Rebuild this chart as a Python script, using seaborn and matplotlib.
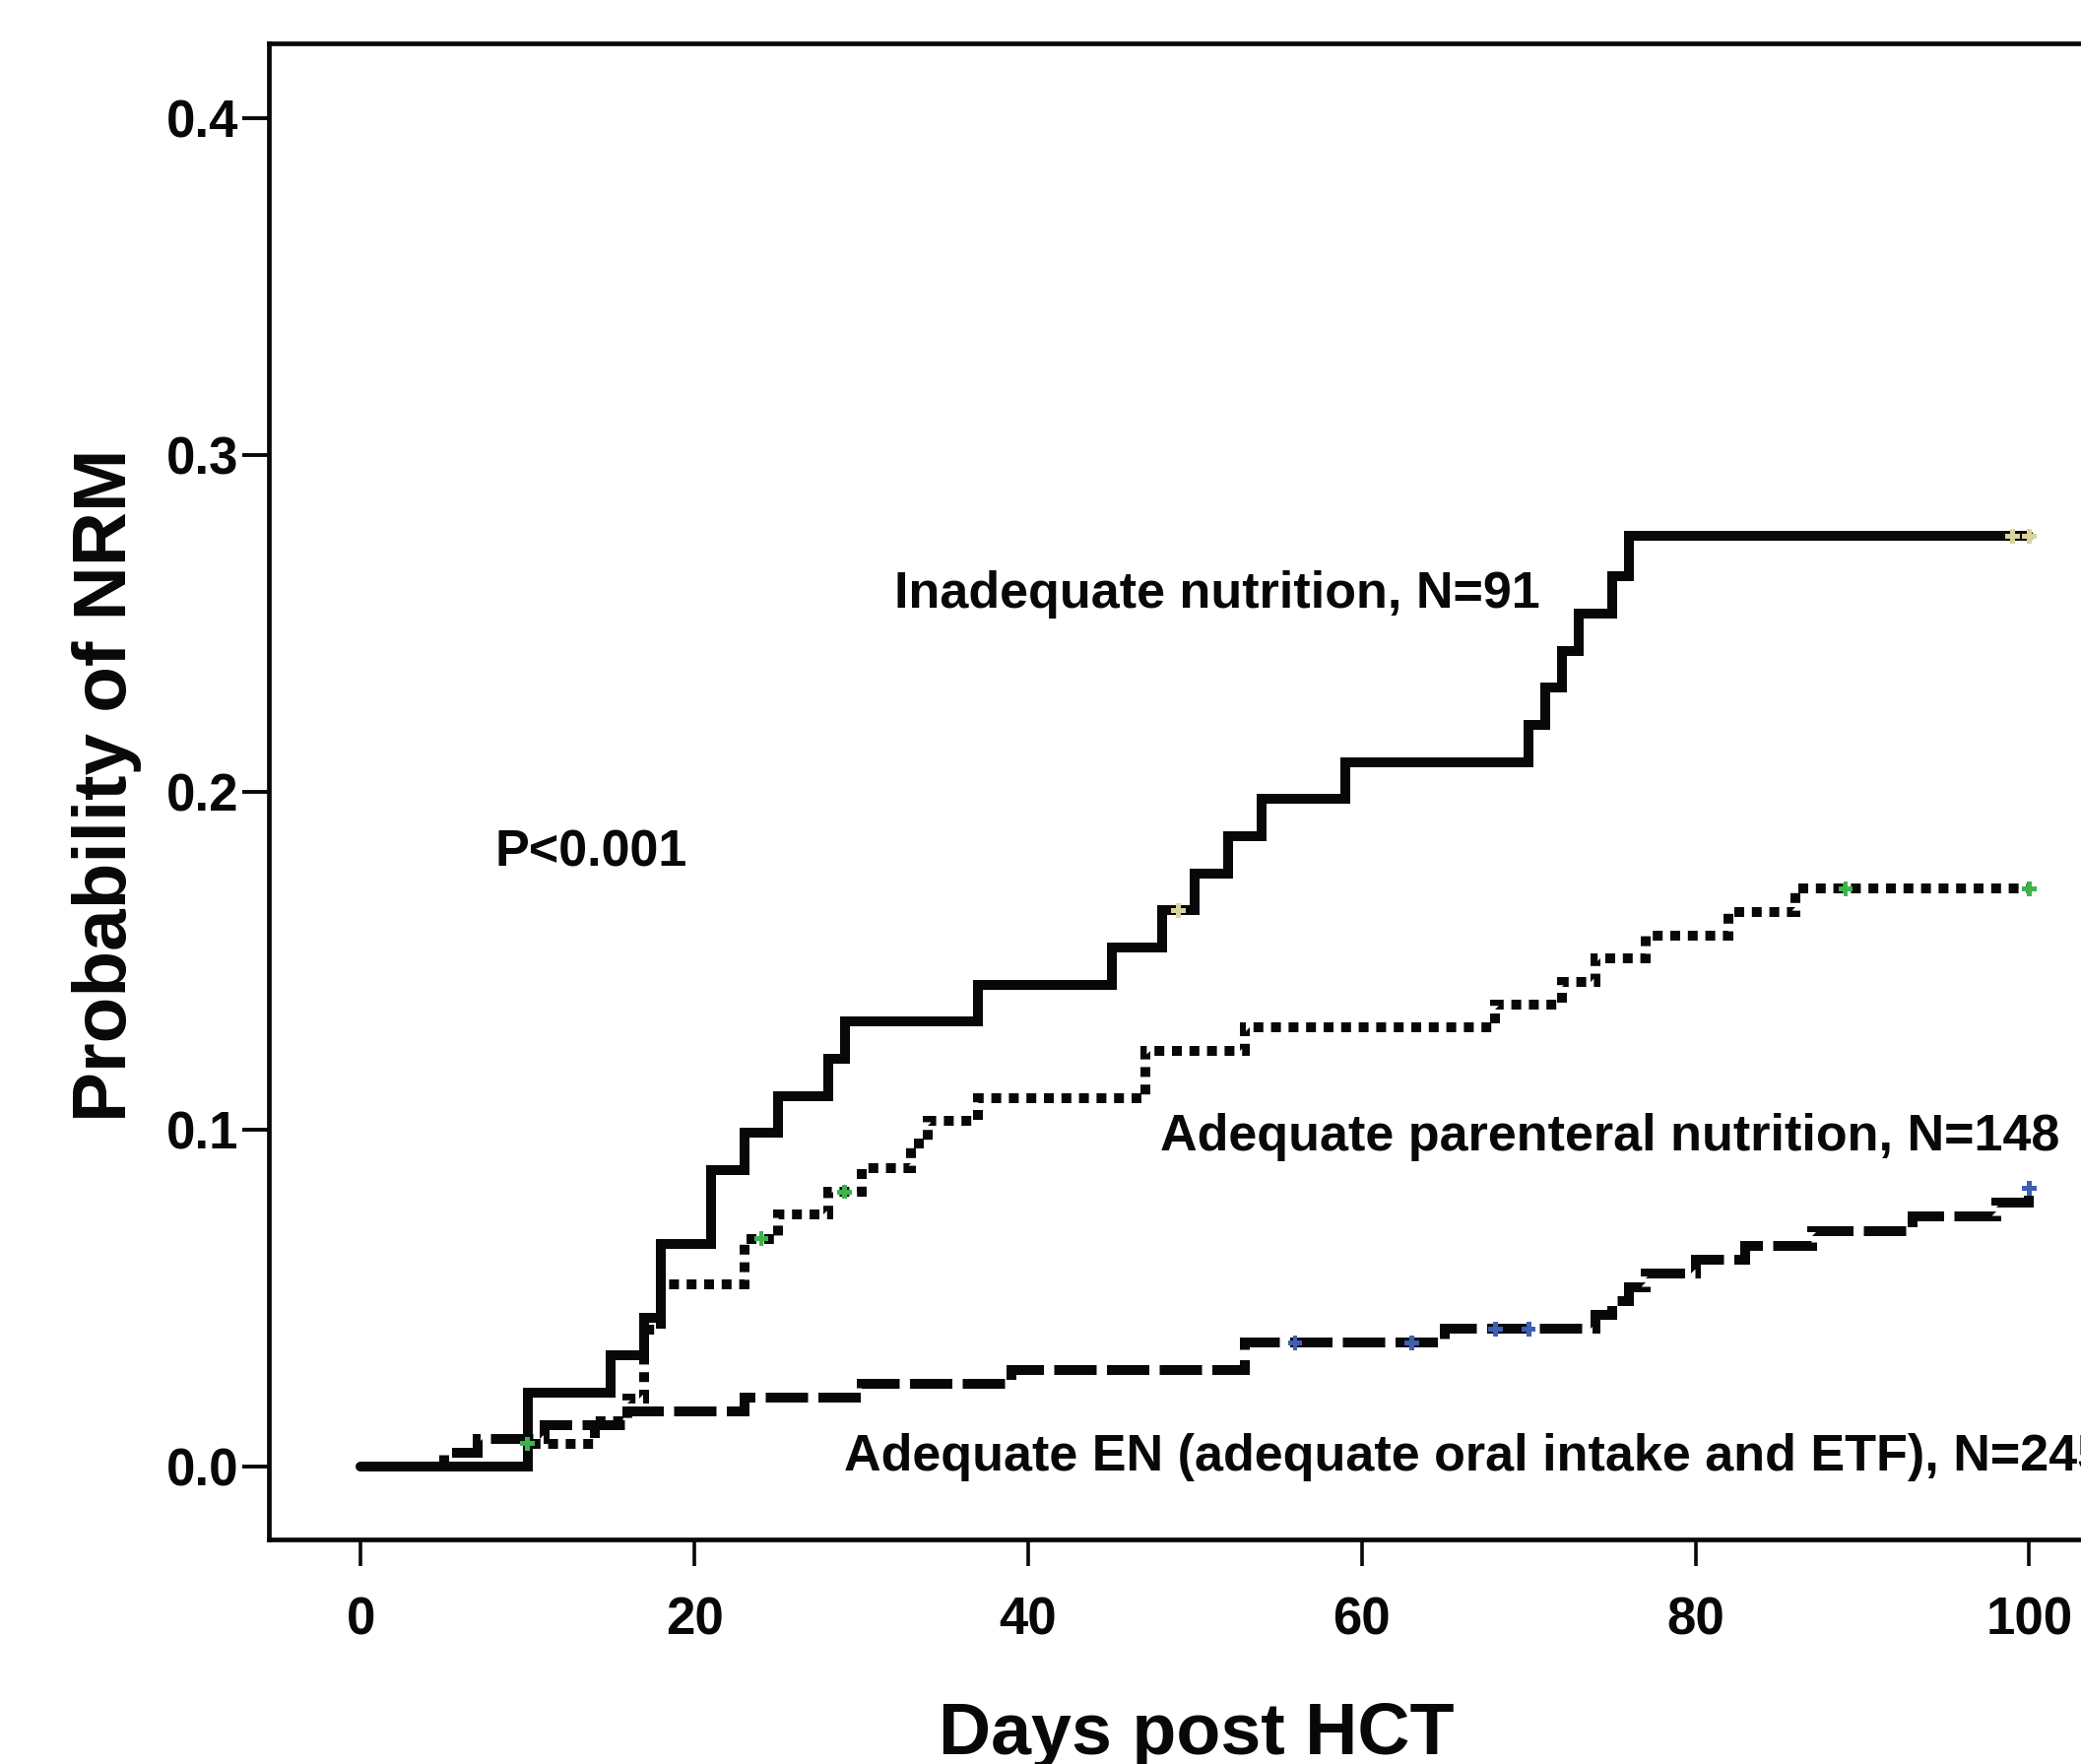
import numpy as np
import pandas as pd
import matplotlib
matplotlib.use("Agg")
import matplotlib.pyplot as plt
import seaborn as sns

# Curvas de incidencia acumulada de NRM
dias_inadecuada = [0, 10, 15, 17, 18, 21, 23, 25, 28, 29, 37, 45, 48, 50, 52, 54, 59, 70, 71, 72, 73, 75, 76, 100]
nrm_inadecuada = [0, .022, .033, .044, .066, .088, .099, .110, .121, .132, .143, .154, .165, .176, .187,
                  .198, .209, .220, .231, .242, .253, .264, .276, .276]

dias_parenteral = [0, 10, 14, 16, 17, 18, 23, 25, 28, 30, 33, 34, 37, 47, 53, 68, 72, 74, 77, 82, 86, 100]
nrm_parenteral = [0, .0068, .0135, .0203, .0405, .0541, .0676, .0747, .0815, .0885, .0957, .1026, .1093,
                  .1234, .1303, .1370, .1438, .1507, .1574, .1645, .1714, .1714]

dias_en = [0, 5, 7, 11, 16, 23, 30, 39, 53, 65, 74, 75, 76, 77, 80, 83, 87, 93, 98, 100]
nrm_en = [0, .0041, .0082, .0122, .0163, .0204, .0245, .0286, .0367, .0408, .0449, .0490, .0531, .0572,
          .0613, .0654, .0698, .0742, .0784, .0825]

# Censuras (+)
cens_dias_inadecuada = [49, 99, 100]
cens_nrm_inadecuada = [.165, .276, .276]
cens_dias_parenteral = [10, 24, 29, 89, 100]
cens_nrm_parenteral = [.0068, .0676, .0815, .1714, .1714]
cens_dias_en = [56, 63, 68, 70, 100]
cens_nrm_en = [.0367, .0367, .0408, .0408, .0825]

XTICKS = [0, 20, 40, 60, 80, 100]
YTICKS = [0.0, 0.1, 0.2, 0.3, 0.4]

sns.set_style("ticks")
FUENTE = ['Liberation Sans', 'DejaVu Sans']
plt.rcParams['font.family'] = FUENTE
plt.rcParams['font.weight'] = 'bold'
NEGRO = '#080808'

fig = plt.figure(figsize=(21.13, 17.91), dpi=100)
ax = fig.add_axes([0.1293, 0.1273, 0.8939, 0.8482])

LW = 7.2
curvas = [
    (dias_inadecuada, nrm_inadecuada, '-'),
    (dias_parenteral, nrm_parenteral, (0, (1.0, 0.78))),
    (dias_en, nrm_en, (0, (4.3, 1.05))),
]
for dias, nrm, estilo in curvas:
    df = pd.DataFrame({'dia': dias, 'nrm': nrm})
    sns.lineplot(data=df, x='dia', y='nrm', estimator=None, sort=False, ax=ax,
                 color=NEGRO, linewidth=LW, linestyle=estilo,
                 drawstyle='steps-post', solid_joinstyle='miter',
                 dash_joinstyle='miter', dash_capstyle='butt')

censuras = [
    (cens_dias_inadecuada, cens_nrm_inadecuada, '#d8d3a0'),
    (cens_dias_parenteral, cens_nrm_parenteral, '#3cb44b'),
    (cens_dias_en, cens_nrm_en, '#3f5fb3'),
]
for dias, nrm, color in censuras:
    sns.scatterplot(x=dias, y=nrm, marker='P', s=110, color=color,
                    edgecolor='none', ax=ax, zorder=5)

ax.set_xlim(-5.5, 106)
ax.set_ylim(-0.0216, 0.4222)
ax.set_xticks(XTICKS)
ax.set_xticklabels([str(t) for t in XTICKS])
ax.set_yticks(YTICKS)
ax.set_yticklabels([f'{t:.1f}' for t in YTICKS])

for lado in ['left', 'bottom', 'top', 'right']:
    ax.spines[lado].set_linewidth(3.4)
    ax.spines[lado].set_color(NEGRO)

ax.tick_params(axis='x', direction='out', length=19.5, width=2.6, pad=22,
               labelsize=38, colors=NEGRO)
ax.tick_params(axis='y', direction='out', length=19.5, width=2.8, pad=3,
               labelsize=38, colors=NEGRO)
for lab in ax.get_xticklabels() + ax.get_yticklabels():
    lab.set_fontweight('bold')

ax.set_xlabel('Days post HCT', fontsize=53, fontweight='bold', color=NEGRO)
ax.set_ylabel('Probability of NRM', fontsize=55, fontweight='bold', color=NEGRO)
ax.xaxis.set_label_coords(0.575, 0.036, transform=fig.transFigure)
ax.yaxis.set_label_coords(0.068, 0.555, transform=fig.transFigure)

textos = [
    (31.97, 0.2548, 'Inadequate nutrition, N=91'),
    (8.06, 0.178, 'P<0.001'),
    (47.9, 0.0937, 'Adequate parenteral nutrition, N=148'),
    (28.96, -0.0012, 'Adequate EN (adequate oral intake and ETF), N=245'),
]
for x, y, t in textos:
    ax.text(x, y, t, fontsize=37.5, fontweight='bold', ha='left', va='baseline',
            color=NEGRO, clip_on=False)

fig.savefig('out.png', dpi=100, facecolor='white')
